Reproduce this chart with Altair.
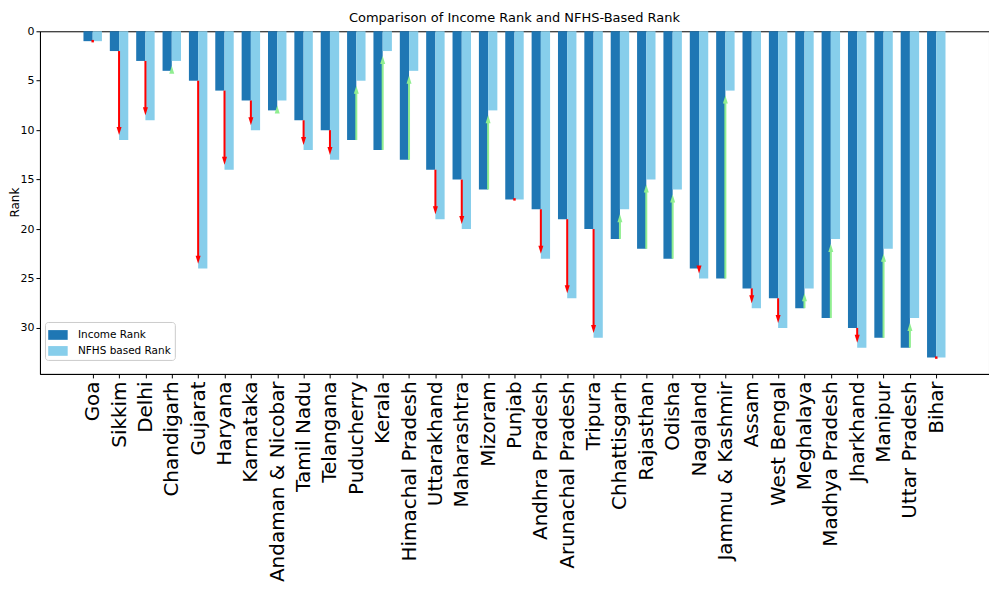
import json
import altair as alt
import pandas as pd

states = ["Goa", "Sikkim", "Delhi", "Chandigarh", "Gujarat", "Haryana", "Karnataka",
          "Andaman & Nicobar", "Tamil Nadu", "Telangana", "Puducherry", "Kerala",
          "Himachal Pradesh", "Uttarakhand", "Maharashtra", "Mizoram", "Punjab",
          "Andhra Pradesh", "Arunachal Pradesh", "Tripura", "Chhattisgarh", "Rajasthan",
          "Odisha", "Nagaland", "Jammu & Kashmir", "Assam", "West Bengal", "Meghalaya",
          "Madhya Pradesh", "Jharkhand", "Manipur", "Uttar Pradesh", "Bihar"]
income_rank = [1, 2, 3, 4, 5, 6, 7, 8, 9, 10, 11, 12, 13, 14, 15, 16, 17,
               18, 19, 20, 21, 22, 23, 24, 25, 26, 27, 28, 29, 30, 31, 32, 33]
nfhs_rank = [1, 11, 9, 3, 24, 14, 10, 7, 12, 13, 5, 2, 4, 19, 20, 8, 17,
             23, 27, 31, 18, 15, 16, 25, 6, 28, 30, 26, 21, 32, 22, 29, 33]
series_names = ["Income Rank", "NFHS based Rank"]
series_colors = ["#1f77b4", "#87ceeb"]
y_ticks = [0, 5, 10, 15, 20, 25, 30]

# ---- tables built from the arrays ----
base = pd.DataFrame({"state": states, "idx": range(len(states)),
                     "income": income_rank, "nfhs": nfhs_rank})
bars = pd.concat([
    base.assign(series=series_names[0], value=base["income"]),
    base.assign(series=series_names[1], value=base["nfhs"]),
], ignore_index=True)

arrows = base.copy()
arrows["diff"] = arrows["nfhs"] - arrows["income"]
sgn = arrows["diff"].apply(lambda d: (d > 0) - (d < 0))
arrows["tip"] = arrows["nfhs"] - 0.5 * sgn
arrows["shaft_end"] = arrows["tip"] - 0.7 * sgn
down = arrows[arrows["diff"] > 0]
up = arrows[arrows["diff"] < 0]
down_shaft = down[down["shaft_end"] > down["income"]]
up_shaft = up[up["shaft_end"] < up["income"]]
same = arrows[arrows["diff"] == 0]

XDOM = [-2, 34]
YDOM = [0, 34.65]
label_expr = json.dumps(states) + "[datum.value]"

x_axis = alt.Axis(values=list(range(len(states))), labelExpr=label_expr, labelAngle=270,
                  labelAlign="right", labelBaseline="middle", labelFontSize=20,
                  labelPadding=3, tickSize=4, grid=False, title=None, labelOverlap=False,
                  labelFlush=False, labelBound=False, labelLimit=0, domainColor="black",
                  tickColor="black", labelColor="black")
y_axis = alt.Axis(values=y_ticks, title="Rank", grid=False, labelFontSize=11, tickSize=4,
                  titleFontSize=12, titleFontWeight="normal", titleX=-21, titleY=171,
                  titleAngle=270, titleBaseline="alphabetic", titleAlign="center",
                  domainColor="black", tickColor="black", labelColor="black",
                  titleColor="black")


def X(field):
    return alt.X(field, type="quantitative", scale=alt.Scale(domain=XDOM, nice=False, zero=False),
                 axis=x_axis)


def Y(field):
    return alt.Y(field, type="quantitative",
                 scale=alt.Scale(domain=YDOM, reverse=True, nice=False, zero=False),
                 axis=y_axis)


bar_layer = alt.Chart(bars).transform_calculate(
    x0="datum.series == 'Income Rank' ? datum.idx - 0.35 : datum.idx",
    x1="datum.series == 'Income Rank' ? datum.idx : datum.idx + 0.35",
).mark_bar(strokeWidth=0).encode(
    x=X("x0"), x2="x1:Q",
    y=Y("value"), y2=alt.datum(0),
    color=alt.Color("series:N", scale=alt.Scale(domain=series_names, range=series_colors),
                    legend=alt.Legend(title=None, orient="none", legendX=5, legendY=291,
                                      padding=3, rowPadding=0, symbolSize=380,
                                      symbolType="M-1,-0.5H1V0.5H-1Z", symbolStrokeWidth=0,
                                      symbolOpacity=1, labelFontSize=10.5, labelOffset=10,
                                      strokeColor="#cccccc", cornerRadius=3,
                                      fillColor="white", labelColor="black")),
)

down_rule = alt.Chart(down_shaft).mark_rule(color="#ff0000", strokeWidth=2, strokeCap="butt").encode(
    x=X("idx"), y=Y("income"), y2="shaft_end:Q")
up_rule = alt.Chart(up_shaft).mark_rule(color="#90ee90", strokeWidth=2, strokeCap="butt").encode(
    x=X("idx"), y=Y("income"), y2="shaft_end:Q")
down_head = alt.Chart(down).mark_point(filled=True, size=64, opacity=1, strokeWidth=0,
                                       color="#ff0000", shape="M-0.625,-2L0.625,-2L0,0Z").encode(
    x=X("idx"), y=Y("tip"))
up_head = alt.Chart(up).mark_point(filled=True, size=64, opacity=1, strokeWidth=0,
                                   color="#90ee90", shape="M-0.625,2L0.625,2L0,0Z").encode(
    x=X("idx"), y=Y("tip"))
same_dot = alt.Chart(same).mark_point(filled=True, size=6, opacity=1, strokeWidth=0,
                                      color="#ff0000", shape="square").encode(
    x=X("idx"), y=Y("nfhs"))

chart = alt.layer(bar_layer, down_rule, up_rule, down_head, up_head, same_dot).properties(
    width=950, height=343,
    padding={"left": 32, "top": 23, "right": 0, "bottom": 214},
    autosize=alt.AutoSizeParams(type="none"),
    title=alt.TitleParams("Comparison of Income Rank and NFHS-Based Rank", fontSize=13,
                          fontWeight="normal", font="DejaVu Sans", offset=0,
                          anchor="middle", color="black"),
).configure(font="DejaVu Sans").configure_view(stroke="black", strokeWidth=1)

chart.save("out.html", embed_options={"renderer": "svg", "actions": False})
